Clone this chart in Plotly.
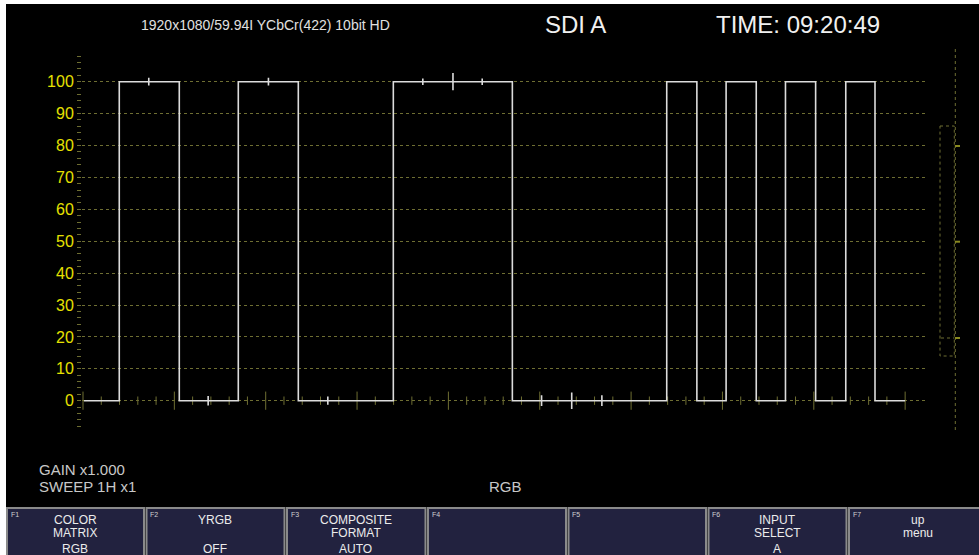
import plotly.graph_objects as go

# waveform (1H sweep, arbitrary time units, 10 units per major division)
RISE_X = [3.97, 17.0, 33.97, 63.9, 70.4, 76.9, 83.5]
FALL_X = [10.54, 23.57, 47.0, 67.2, 73.7, 80.2, 86.7]
LEVEL_HIGH = 100
LEVEL_LOW = 0
START_X, END_X = 0.1, 90.0
SPIKE_X = [7.2, 13.7, 20.3, 26.8, 37.2, 40.5, 43.7, 50.2, 53.5, 56.8]
SPIKE_AMP = [1.2, 1.5, 1.2, 1.3, 1.0, 2.7, 1.0, 1.7, 2.6, 1.7]

Y_TICKS = [0, 10, 20, 30, 40, 50, 60, 70, 80, 90, 100]
X_MAJOR = [0, 10, 20, 30, 40, 50, 60, 70, 80, 90]
X_MINOR = [v for v in range(0, 91, 2) if v % 10]

HEADER = '1920x1080/59.94I YCbCr(422) 10bit HD'
INPUT = 'SDI A'
TIME = 'TIME: 09:20:49'
STATUS = ['GAIN x1.000', 'SWEEP 1H x1']
MODE = 'RGB'
FKEYS = [
    ('F1', ['COLOR', 'MATRIX', 'RGB']),
    ('F2', ['YRGB', '', 'OFF']),
    ('F3', ['COMPOSITE', 'FORMAT', 'AUTO']),
    ('F4', ['', '', '']),
    ('F5', ['', '', '']),
    ('F6', ['INPUT', 'SELECT', 'A']),
    ('F7', ['up', 'menu', '']),
]

W, H = 979, 555
L, R, T, B = 82, 925, 55, 428
GRID = '#6e6e32'
YELLOW = '#e6e000'


def px(x):
    return (x - L) / (R - L)


def py(y):
    return (B - y) / (B - T)


# build the trace polyline from edges and spikes
events = [(x, 'rise', 0) for x in RISE_X] + [(x, 'fall', 0) for x in FALL_X]
events += [(x, 'spike', a) for x, a in zip(SPIKE_X, SPIKE_AMP)]
events.sort()
wx, wy = [START_X], [LEVEL_LOW]
cur = LEVEL_LOW
for x, kind, a in events:
    if kind == 'spike':
        wx += [x, x, x, x]
        wy += [cur, cur + a, cur - a, cur]
    else:
        new = LEVEL_HIGH if kind == 'rise' else LEVEL_LOW
        wx += [x, x]
        wy += [cur, new]
        cur = new
wx.append(END_X)
wy.append(cur)

fig = go.Figure()
fig.add_trace(go.Scatter(x=X_MINOR, y=[0] * len(X_MINOR), mode='markers',
                         marker=dict(symbol='line-ns', size=6, line=dict(width=1, color=GRID)),
                         hoverinfo='skip'))
fig.add_trace(go.Scatter(x=X_MAJOR, y=[0] * len(X_MAJOR), mode='markers',
                         marker=dict(symbol='line-ns', size=13, line=dict(width=1, color=GRID)),
                         hoverinfo='skip'))
fig.add_trace(go.Scatter(x=wx, y=wy, mode='lines',
                         line=dict(color='#dcdcdc', width=1.6), hoverinfo='skip'))

shapes = [dict(type='rect', xref='paper', yref='paper', x0=px(6), x1=px(W + 5), y0=py(4), y1=py(H + 5),
               fillcolor='black', line_width=0, layer='below')]

# right-side level indicator
shapes.append(dict(type='line', xref='paper', yref='paper', x0=px(955.3), x1=px(955.3), y0=py(49), y1=py(432),
                   line=dict(color=GRID, width=1, dash='dot')))
shapes.append(dict(type='rect', xref='paper', yref='paper', x0=px(940), x1=px(954.3), y0=py(126), y1=py(356),
                   line=dict(color=GRID, width=1, dash='dot')))
for yy in [146, 241.7, 338]:
    shapes.append(dict(type='line', xref='paper', yref='paper', x0=px(955), x1=px(960), y0=py(yy), y1=py(yy),
                       line=dict(color='#8a8a20', width=2)))
shapes.append(dict(type='line', xref='paper', yref='paper', x0=px(941), x1=px(954), y0=py(338), y1=py(338),
                   line=dict(color=GRID, width=1, dash='dot')))

annotations = [
    dict(text=HEADER, x=px(265.5), y=py(24.5), font=dict(size=14, color='#e0e0e0')),
    dict(text=INPUT, x=px(575), y=py(25), font=dict(size=24, color='#f0f0f0')),
    dict(text=TIME, x=px(797.5), y=py(25), font=dict(size=24, color='#f0f0f0')),
    dict(text=STATUS[0], x=px(37), y=py(469.5), xanchor='left', font=dict(size=15, color='#c8c8c8')),
    dict(text=STATUS[1], x=px(37), y=py(487), xanchor='left', font=dict(size=15, color='#c8c8c8')),
    dict(text=MODE, x=px(505.5), y=py(487), font=dict(size=15, color='#c8c8c8')),
]

# function key bar
key_edges = [6, 145.5, 286, 427, 567.5, 707.5, 848, 990]
slot_y = [519.5, 533, 548.5]
for i, (name, lines) in enumerate(FKEYS):
    x0, x1 = key_edges[i], key_edges[i + 1] - 1.5
    shapes.append(dict(type='rect', xref='paper', yref='paper', x0=px(x0 + 1), x1=px(x1), y0=py(508), y1=py(H + 5),
                       fillcolor='#22223f', line=dict(color='#8a8a8a', width=2), layer='above'))
    annotations.append(dict(text=name, x=px(x0 + 2.5), y=py(509), xanchor='left', yanchor='top',
                            font=dict(size=7, color='#cfcfcf')))
    cx = (x0 + x1) / 2
    for s, txt in enumerate(lines):
        if txt:
            annotations.append(dict(text=txt, x=px(cx), y=py(slot_y[s]), font=dict(size=12, color='#ececec')))

for a in annotations:
    a.update(xref='paper', yref='paper', showarrow=False)
    a.setdefault('xanchor', 'center')
    a.setdefault('yanchor', 'middle')
    a['font'].setdefault('family', 'Liberation Sans, Arial, sans-serif')

fig.update_layout(
    width=W, height=H,
    margin=dict(l=L, r=W - R, t=T, b=H - B),
    paper_bgcolor='white', plot_bgcolor='rgba(0,0,0,0)',
    showlegend=False,
    shapes=shapes, annotations=annotations,
    font=dict(family='Liberation Sans, Arial, sans-serif'),
)
fig.update_xaxes(range=[(L - 83) / 9.135, (R - 83) / 9.135], showgrid=False, zeroline=False,
                 showticklabels=False, ticks='', showline=False, fixedrange=True)
fig.update_yaxes(range=[-8.56, 108.37], tickvals=Y_TICKS, showgrid=True, gridcolor=GRID, griddash='dot',
                 gridwidth=1, zeroline=False, showline=False, ticks='outside', ticklen=4, tickcolor=GRID,
                 tickfont=dict(size=16, color=YELLOW), ticklabelstandoff=0,
                 minor=dict(tickvals=[v for v in range(-8, 109, 2) if v % 10], ticks='outside', ticklen=4,
                            tickcolor=GRID, showgrid=False),
                 fixedrange=True)

fig.write_html('out.html', config={'displayModeBar': False},
               post_script="document.body.style.margin='0';document.body.style.overflow='hidden';")
